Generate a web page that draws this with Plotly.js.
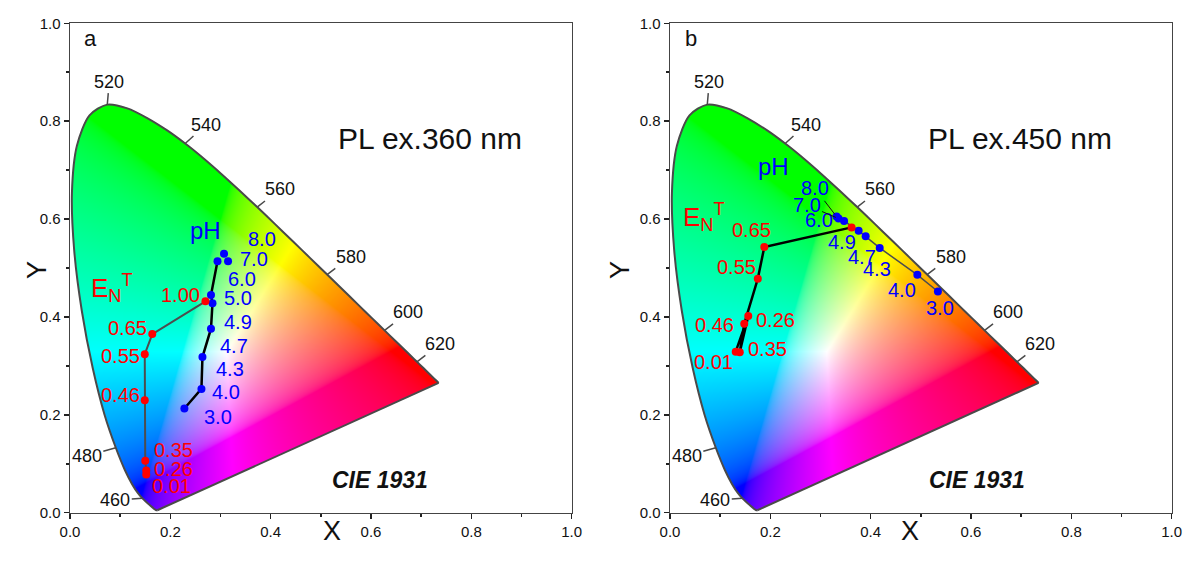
<!DOCTYPE html>
<html><head><meta charset="utf-8">
<script src="https://cdn.plot.ly/plotly-3.0.1.min.js"></script>
<style>html,body{margin:0;padding:0;background:#fff}#chart{width:1185px;height:565px}</style>
</head><body><div id="chart"></div>
<script>
// CIE 1931 2-degree spectral locus (standard chromaticity coordinates)
const locusWl = [380,390,400,410,420,430,440,450,455,460,465,470,475,480,485,490,495,500,505,510,515,520,525,530,535,540,545,550,555,560,565,570,575,580,585,590,595,600,605,610,615,620,625,630,640,650,660,680,700];
const locusX = [0.1741,0.1738,0.1733,0.1726,0.1714,0.1689,0.1644,0.1566,0.1510,0.1440,0.1355,0.1241,0.1096,0.0913,0.0687,0.0454,0.0235,0.0082,0.0039,0.0139,0.0389,0.0743,0.1142,0.1547,0.1929,0.2296,0.2658,0.3016,0.3373,0.3731,0.4087,0.4441,0.4788,0.5125,0.5448,0.5752,0.6029,0.6270,0.6482,0.6658,0.6801,0.6915,0.7006,0.7079,0.7190,0.7260,0.7300,0.7334,0.7347];
const locusY = [0.0050,0.0049,0.0048,0.0048,0.0051,0.0069,0.0109,0.0177,0.0227,0.0297,0.0399,0.0578,0.0868,0.1327,0.2007,0.2950,0.4127,0.5384,0.6548,0.7502,0.8120,0.8338,0.8262,0.8059,0.7816,0.7543,0.7243,0.6923,0.6589,0.6245,0.5896,0.5547,0.5202,0.4866,0.4544,0.4242,0.3965,0.3725,0.3514,0.3340,0.3197,0.3083,0.2993,0.2920,0.2809,0.2740,0.2700,0.2666,0.2653];
const tickWl = [460,480,520,540,560,580,600,620];

// Panel a : PL ex.360 nm
const enLabelsA = ['1.00','0.65','0.55','0.46','0.35','0.26','0.01'];
const enXA = [0.270,0.164,0.149,0.149,0.150,0.152,0.152];
const enYA = [0.432,0.365,0.324,0.230,0.106,0.086,0.078];
const phLabelsA = ['3.0','4.0','4.3','4.7','4.9','5.0','6.0','7.0','8.0'];
const phXA = [0.228,0.262,0.264,0.281,0.284,0.281,0.294,0.315,0.307];
const phYA = [0.213,0.253,0.318,0.376,0.428,0.445,0.514,0.514,0.529];

// Panel b : PL ex.450 nm
const enLabelsB = ['1.00','0.65','0.55','0.46','0.35','0.26','0.01'];
const enXB = [0.362,0.188,0.175,0.148,0.139,0.156,0.131];
const enYB = [0.583,0.543,0.478,0.386,0.328,0.402,0.329];
const phLabelsB = ['3.0','4.0','4.3','4.7','4.9','6.0','7.0','8.0'];
const phXB = [0.534,0.493,0.418,0.390,0.376,0.347,0.336,0.332];
const phYB = [0.452,0.486,0.541,0.565,0.576,0.596,0.601,0.605];

// ---------- layout / style configuration ----------
const FONT = 'Liberation Sans, Arial, Helvetica, sans-serif';
const RED = '#ff0000', BLUE = '#0000ff';
const wlOffsets = {460:[-27,2],480:[-29,8],520:[2,-23],540:[21,-19],560:[22.5,-17.6],580:[23.6,-17.6],600:[23.5,-18],620:[23.4,-18]};
const enOffA = [[-24.8,-6],[-24.5,-6.3],[-24.6,1.5],[-24.6,-5.5],[27.9,-11.3],[26.9,-2],[25.7,11.1]];
const phOffA = [[34,8.5],[24.5,3.5],[27.4,11.9],[23.3,17.1],[25.6,19.2],[27.1,3.3],[24.4,17.5],[26.4,-2],[37.9,-14.4]];
const enOffB = [null,[-12.7,-16.9],[-21.2,-11.5],[-29.3,1.2],[27.5,-3.2],[27.7,4],[-22.5,10]];
const phOffB = [[1.9,16.8],[-15.8,15.1],[-2.5,21.4],[-4.1,21.1],[-17.1,10.9],[-24.9,-1],[-32,-13.6,true],[-21.7,-28.3,true]];

// ---------- gamut background image ----------
const IMG = {x0:0, x1:0.75, y0:0, y1:0.85, scale:2.2};
function gamutImage(){
  const W = Math.round((IMG.x1-IMG.x0)*502*IMG.scale), H = Math.round((IMG.y1-IMG.y0)*489.4*IMG.scale);
  const off = document.createElement('canvas'); off.width=W; off.height=H;
  const octx = off.getContext('2d'); const im = octx.createImageData(W,H); const d = im.data;
  const gam = v => v<=0.0031308 ? 12.92*v : 1.055*Math.pow(v,1/2.4)-0.055;
  for(let j=0;j<H;j++){
    let y = IMG.y1 - (j+0.5)/H*(IMG.y1-IMG.y0); if(y<0.002) y=0.002;
    for(let i=0;i<W;i++){
      const x = IMG.x0 + (i+0.5)/W*(IMG.x1-IMG.x0);
      const X=x/y, Y=1, Z=(1-x-y)/y;
      let r= 3.2406*X-1.5372*Y-0.4986*Z;
      let g=-0.9689*X+1.8758*Y+0.0415*Z;
      let b= 0.0557*X-0.2040*Y+1.0570*Z;
      r=Math.max(r,0); g=Math.max(g,0); b=Math.max(b,0);
      const m=Math.max(r,g,b)||1; r/=m; g/=m; b/=m;
      const k=(j*W+i)*4;
      d[k]=Math.round(255*gam(r)); d[k+1]=Math.round(255*gam(g)); d[k+2]=Math.round(255*gam(b)); d[k+3]=255;
    }
  }
  octx.putImageData(im,0,0);
  const cv = document.createElement('canvas'); cv.width=W; cv.height=H;
  const ctx = cv.getContext('2d');
  const P = locusX.map((lx,n)=>[(lx-IMG.x0)/(IMG.x1-IMG.x0)*W, (IMG.y1-locusY[n])/(IMG.y1-IMG.y0)*H]);
  ctx.beginPath(); ctx.moveTo(P[0][0],P[0][1]);
  // Catmull-Rom smoothing along the spectral locus, straight purple line back
  for(let n=0;n<P.length-1;n++){
    const p0=P[Math.max(n-1,0)], p1=P[n], p2=P[n+1], p3=P[Math.min(n+2,P.length-1)];
    ctx.bezierCurveTo(p1[0]+(p2[0]-p0[0])/6, p1[1]+(p2[1]-p0[1])/6, p2[0]-(p3[0]-p1[0])/6, p2[1]-(p3[1]-p1[1])/6, p2[0], p2[1]);
  }
  ctx.closePath(); ctx.clip(); ctx.drawImage(off,0,0);
  return cv.toDataURL('image/png');
}
const gamutSrc = gamutImage();

// ---------- build figure ----------
const traces = [], annotations = [], images = [];
function axis(domain, anchor){
  return {domain, anchor, range:[0,1], dtick:0.2, tick0:0, tickformat:'.1f', ticks:'outside', ticklen:5, tickwidth:1.5, tickcolor:'#222',
    showline:true, linecolor:'#444', linewidth:1.5, mirror:true, showgrid:false, zeroline:false, fixedrange:true,
    tickfont:{family:FONT,size:15,color:'#111'},
    minor:{dtick:0.1, tick0:0, ticks:'outside', ticklen:3, tickwidth:1.5, tickcolor:'#222'}};
}

function panel(xa, ya, cfg){
  images.push({source:gamutSrc, xref:xa, yref:ya, x:IMG.x0, y:IMG.y1, sizex:IMG.x1-IMG.x0, sizey:IMG.y1-IMG.y0, sizing:'stretch', layer:'below', xanchor:'left', yanchor:'top'});
  const last = locusX.length-1;
  traces.push({x:locusX, y:locusY, xaxis:xa, yaxis:ya, mode:'lines', line:{color:'#4a4a4a',width:2,shape:'spline',smoothing:0.8}, hoverinfo:'skip', showlegend:false});
  traces.push({x:[locusX[last],locusX[0]], y:[locusY[last],locusY[0]], xaxis:xa, yaxis:ya, mode:'lines', line:{color:'#4a4a4a',width:2}, hoverinfo:'skip', showlegend:false});
  tickWl.forEach(w=>{
    const n = locusWl.indexOf(w); const o = wlOffsets[w];
    annotations.push({x:locusX[n], y:locusY[n], xref:xa, yref:ya, text:String(w), showarrow:true, arrowhead:0, arrowwidth:1.5, arrowcolor:'#4a4a4a', ax:o[0], ay:o[1], standoff:0, font:{family:FONT,size:18,color:'#111'}});
  });
  traces.push({x:cfg.phX.slice(0,cfg.phLineN), y:cfg.phY.slice(0,cfg.phLineN), xaxis:xa, yaxis:ya, mode:'lines', line:cfg.phLine, hoverinfo:'skip', showlegend:false});
  traces.push({x:cfg.enX, y:cfg.enY, xaxis:xa, yaxis:ya, mode:'lines', line:cfg.enLine, hoverinfo:'skip', showlegend:false});
  traces.push({x:cfg.phX, y:cfg.phY, text:cfg.phL, xaxis:xa, yaxis:ya, mode:'markers', marker:{color:BLUE,size:8}, showlegend:false});
  traces.push({x:cfg.enX, y:cfg.enY, text:cfg.enL, xaxis:xa, yaxis:ya, mode:'markers', marker:{color:RED,size:8}, showlegend:false});
  cfg.enL.forEach((t,i)=>{
    const o = cfg.enOff[i]; if(!o) return;
    annotations.push({x:cfg.enX[i], y:cfg.enY[i], xref:xa, yref:ya, text:t, showarrow:false, xshift:o[0], yshift:-o[1], font:{family:FONT,size:20,color:RED}});
  });
  cfg.phL.forEach((t,i)=>{
    const o = cfg.phOff[i]; if(!o) return;
    if(o[2]) annotations.push({x:cfg.phX[i], y:cfg.phY[i], xref:xa, yref:ya, text:t, showarrow:true, arrowhead:0, arrowwidth:1, arrowcolor:'#111', ax:o[0], ay:o[1], standoff:3, font:{family:FONT,size:20,color:BLUE}});
    else annotations.push({x:cfg.phX[i], y:cfg.phY[i], xref:xa, yref:ya, text:t, showarrow:false, xshift:o[0], yshift:-o[1], font:{family:FONT,size:20,color:BLUE}});
  });
  const txt = (x,y,text,size,color,extra)=>annotations.push(Object.assign({x,y,xref:xa,yref:ya,text,showarrow:false,font:{family:FONT,size,color}},extra||{}));
  txt(cfg.phTitle[0], cfg.phTitle[1], 'pH', 24, BLUE);
  txt(cfg.enTitle[0], cfg.enTitle[1], 'E<sub>N</sub><sup>T</sup>', 26, RED);
  txt(cfg.title[0], cfg.title[1], cfg.titleText, 30, '#111');
  txt(cfg.cie, 0.067, '<b><i>CIE 1931</i></b>', 23, '#111');
  txt(0.041, 0.968, cfg.letter, 22, '#111');
  annotations.push({xref:'paper', yref:'paper', x:cfg.xTitle[0], y:cfg.xTitle[1], text:'X', showarrow:false, font:{family:FONT,size:27,color:'#111'}});
  annotations.push({xref:'paper', yref:'paper', x:cfg.yTitle[0], y:cfg.yTitle[1], text:'Y', textangle:-90, showarrow:false, font:{family:FONT,size:27,color:'#111'}});
}

panel('x','y',{enX:enXA,enY:enYA,enL:enLabelsA,phX:phXA,phY:phYA,phL:phLabelsA,phLineN:7,
  enLine:{color:'#4d4d4d',width:2}, phLine:{color:'#000',width:2.5},
  enOff:enOffA, phOff:phOffA, phTitle:[0.2695,0.5756], enTitle:[0.084,0.4585], title:[0.717,0.764], titleText:'PL ex.360 nm', cie:0.6175, letter:'a',
  xTitle:[321/1185, 1-548/565], yTitle:[20/1185, 1-270/565]});
panel('x2','y2',{enX:enXB,enY:enYB,enL:enLabelsB,phX:phXB,phY:phYB,phL:phLabelsB,phLineN:phLabelsB.length,
  enLine:{color:'#000',width:2.5}, phLine:{color:'#4d4d4d',width:1.5},
  enOff:enOffB, phOff:phOffB, phTitle:[0.206,0.707], enTitle:[0.068,0.604], title:[0.697,0.764], titleText:'PL ex.450 nm', cie:0.611, letter:'b',
  xTitle:[921/1185, 1-548/565], yTitle:[620/1185, 1-270/565]});

const yDom = [(565-512.7)/565, (565-23.3)/565];
const layout = {
  width:1185, height:565, margin:{l:0,r:0,t:0,b:0}, paper_bgcolor:'#fff', plot_bgcolor:'#fff',
  font:{family:FONT,color:'#111'}, showlegend:false,
  xaxis:axis([70/1185, 571.7/1185],'y'), yaxis:axis(yDom,'x'),
  xaxis2:axis([670/1185, 1171.7/1185],'y2'), yaxis2:axis(yDom,'x2'),
  annotations, images
};
Plotly.newPlot('chart', traces, layout, {displayModeBar:false, staticPlot:true});
</script>
</body></html>
